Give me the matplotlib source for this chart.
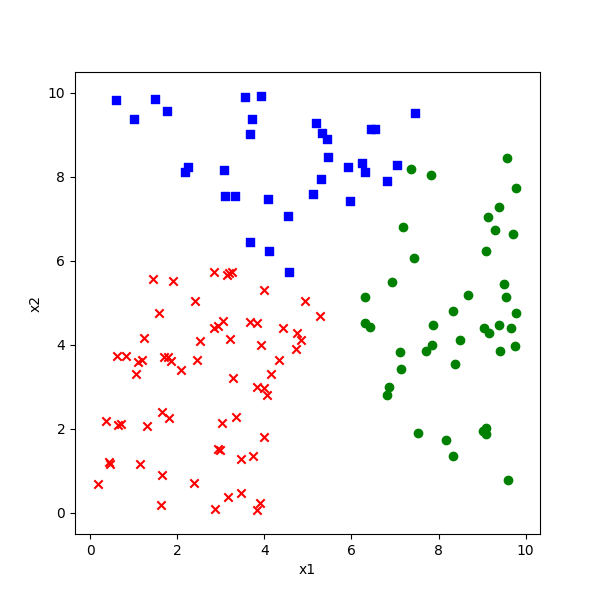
import matplotlib
matplotlib.use("Agg")
import matplotlib.pyplot as plt

# class 0 (blue squares)
blue_x = [0.60, 1.49, 1.01, 1.77, 3.56, 3.93, 3.72, 3.67, 2.25, 2.18, 3.08,
          3.10, 3.33, 4.09, 4.55, 3.67, 4.11, 4.57, 7.46, 5.19, 5.33, 5.44,
          6.45, 6.53, 5.47, 5.93, 6.25, 6.32, 7.05, 6.82, 5.31, 5.12, 5.97]
blue_y = [9.83, 9.86, 9.37, 9.56, 9.90, 9.92, 9.37, 9.02, 8.23, 8.12, 8.16,
          7.54, 7.54, 7.47, 7.06, 6.45, 6.25, 5.75, 9.52, 9.28, 9.04, 8.90,
          9.14, 9.14, 8.47, 8.23, 8.33, 8.11, 8.28, 7.90, 7.95, 7.59, 7.42]

# class 1 (green circles)
green_x = [9.58, 7.37, 7.83, 9.78, 9.39, 9.14, 9.30, 9.72, 7.19, 9.09, 7.44,
           9.51, 6.94, 8.68, 9.55, 6.32, 8.33, 9.78, 6.32, 6.42, 7.88, 9.04,
           9.16, 9.39, 9.66, 8.50, 7.85, 7.72, 9.76, 9.41, 7.11, 8.38, 7.14,
           6.86, 6.82, 7.53, 8.17, 8.34, 9.08, 9.01, 9.10, 9.60]
green_y = [8.45, 8.18, 8.04, 7.75, 7.28, 7.04, 6.73, 6.64, 6.80, 6.23, 6.06,
           5.45, 5.49, 5.18, 5.14, 5.14, 4.81, 4.77, 4.52, 4.43, 4.48, 4.40,
           4.28, 4.48, 4.40, 4.11, 3.99, 3.85, 3.98, 3.85, 3.83, 3.55, 3.44,
           2.99, 2.80, 1.90, 1.73, 1.35, 2.02, 1.95, 1.87, 0.78]

# class 2 (red crosses)
red_x = [1.45, 1.90, 2.85, 3.14, 3.18, 3.26, 4.00, 2.41, 4.93, 1.58, 1.23,
         2.52, 2.85, 2.94, 3.06, 3.21, 3.67, 3.84, 3.93, 4.43, 4.74, 4.85,
         4.72, 4.33, 4.16, 3.84, 4.00, 4.07, 3.28, 2.46, 2.08, 1.70, 1.78,
         1.86, 1.05, 1.09, 1.20, 0.61, 0.82, 0.36, 0.63, 0.71, 1.31, 1.65,
         1.82, 3.02, 3.35, 3.99, 2.93, 2.99, 3.46, 3.74, 0.44, 0.46, 1.15,
         1.65, 2.39, 0.18, 3.16, 3.46, 1.63, 2.87, 3.91, 3.84, 5.28]
red_y = [5.56, 5.53, 5.73, 5.67, 5.71, 5.75, 5.30, 5.04, 5.05, 4.77, 4.16,
         4.09, 4.40, 4.45, 4.58, 4.14, 4.54, 4.52, 3.99, 4.40, 4.28, 4.12,
         3.90, 3.64, 3.30, 2.99, 2.97, 2.81, 3.21, 3.64, 3.40, 3.71, 3.72,
         3.61, 3.30, 3.60, 3.64, 3.75, 3.74, 2.18, 2.09, 2.11, 2.06, 2.40,
         2.26, 2.15, 2.29, 1.81, 1.52, 1.49, 1.28, 1.36, 1.21, 1.17, 1.17,
         0.90, 0.71, 0.68, 0.37, 0.48, 0.19, 0.09, 0.24, 0.06, 4.69]

fig, ax = plt.subplots(figsize=(6, 6), dpi=100)

ax.scatter(blue_x, blue_y, c="b", marker="s")
ax.scatter(green_x, green_y, c="g", marker="o")
ax.scatter(red_x, red_y, c="r", marker="x")

ax.set_xlim(-0.35, 10.33)
ax.set_ylim(-0.5, 10.5)
ax.set_xlabel("x1")
ax.set_ylabel("x2")

plt.savefig("out.png")
